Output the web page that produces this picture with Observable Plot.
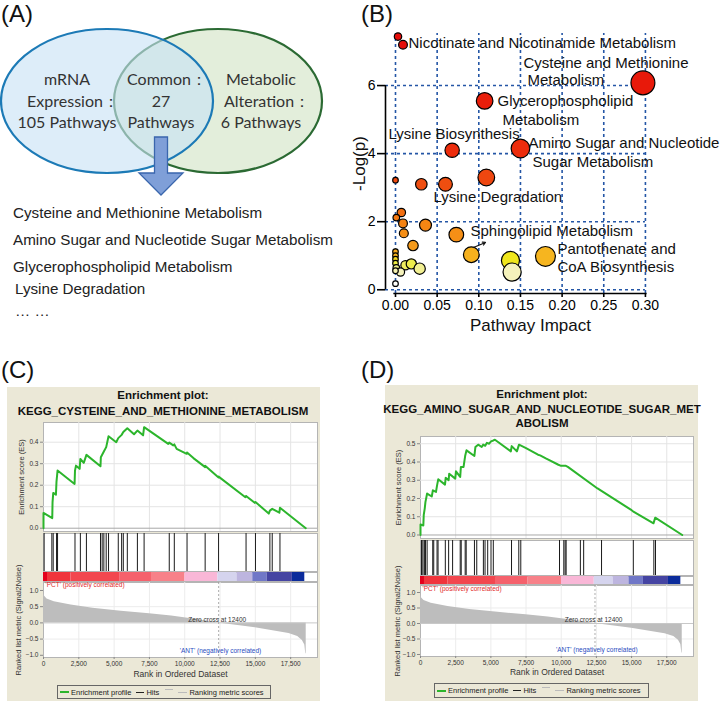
<!DOCTYPE html>
<html><head><meta charset="utf-8">
<script src="https://cdn.jsdelivr.net/npm/d3@7"></script>
<script src="https://cdn.jsdelivr.net/npm/@observablehq/plot@0.6"></script>
<style>
body{margin:0;background:#fff;}
#root{position:relative;width:720px;height:701px;overflow:hidden;font-family:"Liberation Sans",Arial,sans-serif;background:#fff;}
.plab{position:absolute;font-size:24px;line-height:28px;color:#111;}
.bg{position:absolute;background:#ebe8d7;}
.gt{position:absolute;font-weight:bold;font-size:11.5px;line-height:13px;text-align:center;color:#111;white-space:nowrap;transform:translateX(-50%);}
.list{position:absolute;font-size:15.2px;line-height:18px;color:#222;white-space:nowrap;}
.leg{position:absolute;border:1px solid #666;box-sizing:border-box;display:flex;align-items:center;font-size:7.5px;color:#222;white-space:nowrap;padding-left:2px;}
.sw{display:inline-block;width:9px;margin-right:2px;}
svg.plot{position:absolute;}
</style>
</head><body><div id="root"></div>
<script>
// ================= DATA =================
// Panel A
const vennNames = ["mRNA\nExpression：", "Common：", "Metabolic\nAlteration："];
const vennCounts = [105, 27, 6];
const commonPathways = ["Cysteine and Methionine Metabolism", "Amino Sugar and Nucleotide Sugar Metabolism",
  "Glycerophospholipid Metabolism", "Lysine Degradation", "… …"];

// Panel B (pathway impact vs -log(p))
const impact  = [0.003,0.009,0.297,0.107,0.068,0.150,0.000,0.031,0.060,0.109,0.007,0.001,0.009,0.036,0.010,0.073,0.021,0.091,0.180,0.138,0.140,0.000,0.000,0.000,0.000,0.001,0.012,0.019,0.029,0.006,0.000,0.000];
const negLogP = [7.44, 7.20, 6.08, 5.55, 4.10, 4.15, 3.22, 3.10, 3.10, 3.30, 2.27, 2.12, 1.95, 1.90, 1.66, 1.62, 1.30, 1.03, 0.98, 0.86, 0.52, 1.12, 1.00, 0.90, 0.78, 0.64, 0.72, 0.76, 0.62, 0.52, 0.56, 0.18];
const bLabels = [
  {text:"Nicotinate and Nicotinamide Metabolism", x:0.0156, y:7.26},
  {text:"Cysteine and Methionine", x:0.1536, y:6.67},
  {text:"Metabolism", x:0.1584, y:6.15},
  {text:"Glycerophospholipid", x:0.1224, y:5.53},
  {text:"Metabolism", x:0.1284, y:4.97},
  {text:"Lysine Biosynthesis", x:-0.0084, y:4.56},
  {text:"Amino Sugar and Nucleotide", x:0.1596, y:4.30},
  {text:"Sugar Metabolism", x:0.1644, y:3.74},
  {text:"Lysine Degradation", x:0.0456, y:2.71},
  {text:"Sphingolipid Metabolism", x:0.09, y:1.71},
  {text:"Pantothenate and", x:0.1944, y:1.18},
  {text:"CoA Biosynthesis", x:0.1944, y:0.65}
];
const impactTicks = [0, 0.05, 0.10, 0.15, 0.20, 0.25, 0.30];
const logpTicks = [0, 2, 4, 6];

// Panels C / D (GSEA)
const rankTicks = [0, 2500, 5000, 7500, 10000, 12500, 15000, 17500];
const zeroCross = 12400;
const titleC = ["Enrichment plot:", "KEGG_CYSTEINE_AND_METHIONINE_METABOLISM"];
const titleD = ["Enrichment plot:", "KEGG_AMINO_SUGAR_AND_NUCLEOTIDE_SUGAR_MET", "ABOLISM"];
const esCurveC = [[0,0],[0,0.071],[620,0.047],[640,0.12],[690,0.164],[880,0.156],[920,0.217],[995,0.268],
  [2200,0.206],[2230,0.268],[2300,0.291],[2560,0.276],[2610,0.322],[2850,0.304],[3040,0.341],[4035,0.288],
  [4060,0.33],[4273,0.357],[4439,0.377],[4605,0.428],[5151,0.40],[5294,0.419],[5532,0.434],[5650,0.447],
  [5935,0.465],[6410,0.437],[6648,0.454],[7050,0.432],[7123,0.47],[8833,0.392],[8904,0.398],[9189,0.385],
  [9261,0.39],[9427,0.369],[10139,0.346],[10163,0.352],[10614,0.326],[11445,0.284],[11445,0.29],
  [12395,0.236],[12395,0.24],[14295,0.144],[14342,0.15],[14953,0.118],[15007,0.122],[15950,0.068],
  [16029,0.082],[16195,0.09],[16700,0.072],[16742,0.095],[18570,0]];
const hitsC = [45,591,686,924,995,2230,2610,3038,4035,4154,4273,4439,4605,5294,5532,5650,5935,6648,7123,8904,9261,10163,11445,12395,14342,15007,16029,16195,16742];
const esCurveD = [[0,0],[0,0.058],[200,0.052],[230,0.11],[300,0.145],[350,0.18],[470,0.227],[800,0.211],
  [880,0.245],[1100,0.236],[1180,0.273],[1260,0.305],[1740,0.276],[1790,0.313],[2000,0.30],[2040,0.336],
  [2470,0.309],[2520,0.349],[2820,0.318],[2870,0.373],[3060,0.373],[3180,0.436],[3270,0.464],[3830,0.433],
  [3900,0.482],[4100,0.495],[4350,0.482],[4450,0.495],[4600,0.489],[4720,0.505],[4880,0.50],[5010,0.513],
  [5180,0.518],[5290,0.522],[6420,0.458],[6480,0.487],[6850,0.458],[7000,0.495],[7500,0.476],[8350,0.44],
  [8500,0.436],[8940,0.418],[9800,0.385],[9950,0.38],[10300,0.38],[10470,0.373],[12580,0.255],
  [15000,0.136],[15100,0.13],[16560,0.064],[16680,0.095],[18600,0]];
const hitsD = [71,165,259,306,353,470,870,941,1176,1247,1764,1999,2281,2822,2893,3175,3246,3834,3998,4469,4586,4775,5010,5174,6468,6985,7127,9878,10184,10278,10349,11360,11595,12865,15123,16582,16699];
const rankedMetric = [[0,1.0],[20,0.92],[80,0.82],[250,0.74],[760,0.65],[1950,0.55],[3500,0.45],[5500,0.36],
  [7500,0.28],[9070,0.21],[11000,0.10],[12400,0],[15000,-0.15],[17380,-0.33],[18000,-0.42],[18330,-0.54],
  [18500,-0.68],[18570,-0.95],[18600,-0.95]];
const barBounds = [0,283,1945,5389,7645,10020,12348,13702,14818,15840,17620,18500];

// ================= LAYOUT =================
const root = document.getElementById("root");
const FONT = "Liberation Sans, Arial, sans-serif";
function div(cls, txt, css){ const d=document.createElement("div"); if(cls) d.className=cls; if(txt!=null) d.textContent=txt; Object.assign(d.style, css||{}); root.append(d); return d; }
function place(fr, pad, opts){
  const w = fr.r - fr.l + pad[1] + pad[3], h = fr.b - fr.t + pad[0] + pad[2];
  const el = Plot.plot(Object.assign({}, opts, {width:w, height:h, marginTop:pad[0], marginRight:pad[1], marginBottom:pad[2], marginLeft:pad[3],
    style:Object.assign({background:"transparent", fontFamily:FONT, overflow:"visible"}, opts.style||{})}));
  el.style.position="absolute"; el.style.left=(fr.l-pad[3])+"px"; el.style.top=(fr.t-pad[0])+"px"; el.style.maxWidth="none";
  root.append(el); return el;
}

// panel letters
div("plab","(A)",{left:"1px",top:"0px"});
div("plab","(B)",{left:"361px",top:"0px"});
div("plab","(C)",{left:"1px",top:"356px"});
div("plab","(D)",{left:"361px",top:"356px"});

// ---------- Panel A : Venn ----------
(function(){
  const NS="http://www.w3.org/2000/svg";
  const svg=document.createElementNS(NS,"svg");
  svg.setAttribute("width",360); svg.setAttribute("height",205);
  Object.assign(svg.style,{position:"absolute",left:"0px",top:"0px"});
  const cx=[107,161,218];
  svg.innerHTML = `
   <ellipse cx="${cx[2]}" cy="101" rx="104" ry="72" fill="#e3eedb" stroke="#2b6a33" stroke-width="2.2"/>
   <ellipse cx="${cx[0]}" cy="101" rx="106" ry="72" fill="rgba(200,226,246,0.62)" stroke="#1c7ab6" stroke-width="2.2"/>
   <path d="M154.5,137 H167.5 V173 H183 L161,195 L139,173 H154.5 Z" fill="#7f9fd8" stroke="#3a66ad" stroke-width="1.3"/>`;
  const tx=[67,161,261], base=[85,107,128];
  vennNames.forEach((nm,i)=>{
    const lines = nm.split("\n");
    if(lines.length===2) lines.push(vennCounts[i]+" Pathways"); else { lines.push(String(vennCounts[i])); lines.push("Pathways"); }
    lines.forEach((ln,j)=>{
      const t=document.createElementNS(NS,"text");
      t.setAttribute("x",tx[i]+(ln.endsWith("：")?6:0)); t.setAttribute("y",base[j]);
      t.setAttribute("text-anchor","middle"); t.setAttribute("font-family","Lato, 'Noto Sans', sans-serif");
      t.setAttribute("font-size","16"); t.setAttribute("fill","#333"); t.textContent=ln; svg.append(t);
    });
  });
  root.append(svg);
  const ys=[213,240,267,289,311], xs=[13,13,13,15,15];
  commonPathways.forEach((p,i)=>div("list",p,{left:xs[i]+"px",top:(ys[i]-9)+"px"}));
})();

// ---------- Panel B : bubble chart ----------
(function(){
  const data = impact.map((x,i)=>({impact:x, logp:negLogP[i]}));
  const dash = {stroke:"#2456a6", strokeWidth:1.6, strokeDasharray:"3,3"};
  place({l:385,r:647,t:33,b:293},[33,73,47,25],{
    x:{domain:[-0.012,0.3025]}, y:{domain:[-0.11,7.53]},
    r:{type:"sqrt", domain:[0,0.3], range:[2.8,12]},
    color:{type:"linear", domain:[0.15,0.55,0.75,0.86,0.97,1.3,1.9,2.3,3.2,4.1,6],
      range:["#ffffff","#f4f1b6","#eeee50","#efe61c","#f6b61f","#f59a1a","#f58613","#f26c10","#ef4a10","#ec2c0c","#e81a0a"]},
    marks:[
      Plot.ruleX(impactTicks,{y1:-0.11,y2:7.53,...dash}),
      Plot.ruleY(logpTicks,{x1:-0.012,x2:0.30,...dash}),
      Plot.ruleX([-0.012],{y1:0,y2:6,stroke:"#000",strokeWidth:1.6}),
      Plot.ruleY([-0.11],{x1:-0.002,x2:0.302,stroke:"#000",strokeWidth:1.6}),
      Plot.axisY(logpTicks,{tickSize:8,tickPadding:2,label:null,fontSize:14,strokeWidth:1.6}),
      Plot.axisX(impactTicks,{tickSize:4,tickPadding:3,tickFormat:d3.format(".2f"),label:null,fontSize:14,strokeWidth:1.6}),
      Plot.dot(data,{x:"impact",y:"logp",r:"impact",fill:"logp",stroke:"#000",strokeWidth:1.2,sort:null}),
      Plot.text(bLabels,{x:"x",y:"y",text:"text",textAnchor:"start",fontSize:15,fill:"#111"}),
      Plot.arrow([{x1:0.0936,y1:1.24,x2:0.108,y2:1.39}],{x1:"x1",y1:"y1",x2:"x2",y2:"y2",headLength:4,strokeWidth:1.2,stroke:"#111"}),
      Plot.text(["-Log(p)"],{frameAnchor:"left",dx:-26,rotate:-90,fontSize:17,textAnchor:"middle",lineAnchor:"middle",fill:"#111"}),
      Plot.text(["Pathway Impact"],{frameAnchor:"bottom",dx:14,dy:32,fontSize:17,textAnchor:"middle",lineAnchor:"middle",fill:"#111"})
    ]
  });
})();

// ---------- Panels C / D : GSEA ----------
function gsea(c){
  div("bg",null,{left:c.bg[0]+"px",top:c.bg[1]+"px",width:c.bg[2]+"px",height:c.bg[3]+"px"});
  c.title.forEach((t,i)=>div("gt",t,{left:c.cx+"px",top:(c.titleY[i]-6.5)+"px"}));
  const X = {domain:[0,19400], axis:null};
  const L=c.l, R=c.r, grid="#e4e4e4", border="#b4b4b4";
  // enrichment score
  place({l:L,r:R,t:c.es[0],b:c.es[1]},[2,2,2,40],{
    x:X, y:{domain:c.esDomain},
    marks:[
      Plot.frame({fill:"#fff",stroke:border}),
      Plot.ruleX(rankTicks.slice(1),{stroke:grid}),
      Plot.ruleY(c.esTicks.slice(1),{stroke:grid}),
      Plot.ruleY([0],{stroke:"#a8a8a8"}),
      Plot.line(c.curve,{x:d=>d[0],y:d=>d[1],stroke:"#2cb52c",strokeWidth:2}),
      Plot.axisY(c.esTicks,{tickSize:3,tickPadding:2,tickFormat:d3.format(".1f"),fontSize:6.5,label:null,stroke:"#888",fill:"#333"}),
      Plot.text(["Enrichment score (ES)"],{frameAnchor:"left",dx:c.labDx,rotate:-90,fontSize:7.5,fill:"#333",textAnchor:"middle",lineAnchor:"middle"})
    ]
  });
  // hits
  place({l:L,r:R,t:c.hits[0],b:c.hits[1]},[1,1,1,1],{
    x:X,
    marks:[ Plot.frame({fill:"#fff",stroke:border}), Plot.ruleX(c.hitList,{stroke:"#1a1a1a",strokeWidth:1}) ]
  });
  // colour bar
  const bands = d3.pairs(barBounds).map(([a,b],i)=>({a,b,band:i}));
  place({l:L,r:R,t:c.bar[0],b:c.bar[1]},[1,1,1,1],{
    x:X, y:{domain:[0,1],axis:null},
    color:{type:"ordinal",domain:d3.range(bands.length),
      range:["#e3001c","#f0343c","#f2474f","#f5616c","#f78189","#f9b7d7","#d5d4ee","#bdb5df","#7077c7","#4544a2","#0b2b9b"]},
    marks:[ Plot.frame({fill:"#fff",stroke:border}),
      Plot.rect(bands,{x1:"a",x2:"b",y1:0,y2:1,fill:"band"}) ]
  });
  // ranked list metric
  place({l:L,r:R,t:c.rk[0],b:c.rk[1]},[1,2,28,40],{
    x:{domain:[0,19400]}, y:{domain:c.rkDomain},
    marks:[
      Plot.frame({fill:"#fff",stroke:border}),
      Plot.ruleX(rankTicks.slice(1),{stroke:"#ececec"}),
      Plot.ruleY([0.5,-0.5],{stroke:"#ececec"}),
      Plot.areaY(rankedMetric,{x:d=>d[0],y:d=>d[1],fill:"#bdbdbd"}),
      Plot.ruleY([0],{stroke:"#c8c8c8"}),
      Plot.ruleX([zeroCross],{stroke:"#999",strokeDasharray:"2,2",strokeWidth:0.8}),
      Plot.text(["'PCT' (positively correlated)"],{frameAnchor:"top-left",dx:2,dy:c.pctDy,fontSize:6.5,fill:"#e22a2a",lineAnchor:"middle",textAnchor:"start"}),
      Plot.text([{x:12300,y:0.1,t:"Zero cross at "+zeroCross}],{x:"x",y:"y",text:"t",fontSize:6.5,fill:"#333"}),
      Plot.text([{x:12530,y:-0.86,t:"'ANT' (negatively correlated)"}],{x:"x",y:"y",text:"t",fontSize:6.5,fill:"#2a4cc0"}),
      Plot.axisY([1,0.5,0,-0.5,-1],{tickSize:3,tickPadding:2,tickFormat:d3.format(".1f"),fontSize:6.5,label:null,stroke:"#888",fill:"#333"}),
      Plot.axisX(rankTicks,{tickSize:2,tickPadding:2,tickFormat:d3.format(","),fontSize:6.5,label:null,stroke:"#888",fill:"#333"}),
      Plot.text(["Rank in Ordered Dataset"],{frameAnchor:"bottom",dy:c.xlabDy,fontSize:8.5,fill:"#333",textAnchor:"middle",lineAnchor:"middle"}),
      Plot.text(["Ranked list metric (Signal2Noise)"],{frameAnchor:"left",dx:c.labDx2,rotate:-90,fontSize:7.5,fill:"#333",textAnchor:"middle",lineAnchor:"middle"})
    ]
  });
  // legend
  const lg = div("leg",null,{left:c.leg[0]+"px",top:c.leg[1]+"px",width:c.leg[2]+"px",height:c.leg[3]+"px"});
  lg.innerHTML = `<span class="sw" style="border-top:2px solid #2cb52c"></span>Enrichment profile
    <span class="sw" style="border-top:1px solid #222;margin-left:5px;width:8px"></span>Hits
    <span class="sw" style="border-top:1px solid #bbb;margin-left:6px;width:8px;position:relative;top:-3px"></span>
    <span class="sw" style="border-top:1px solid #bbb;margin-left:3px"></span>Ranking metric scores`;
}

gsea({bg:[7,387,313,314], cx:163, title:titleC, titleY:[395,411],
  l:43, r:317, es:[422,531], esDomain:[-0.0153,0.4916], esTicks:[0,0.1,0.2,0.3,0.4],
  hits:[533,571], bar:[572,581], rk:[582,657], rkDomain:[-1.068,1.246],
  hitList:hitsC, curve:esCurveC, labDx:-22, labDx2:-25, pctDy:2.5, xlabDy:17,
  leg:[57,685,214,14]});

gsea({bg:[385,385,313,316], cx:542, title:titleD, titleY:[394,409,423],
  l:420, r:693, es:[436,538], esDomain:[-0.0192,0.5397], esTicks:[0,0.1,0.2,0.3,0.4,0.5],
  hits:[540,575], bar:[576,584], rk:[585,656], rkDomain:[-1.065,1.226],
  hitList:hitsD, curve:esCurveD, labDx:-22, labDx2:-23, pctDy:3, xlabDy:16,
  leg:[434,683,215,15]});
</script>
</body></html>
